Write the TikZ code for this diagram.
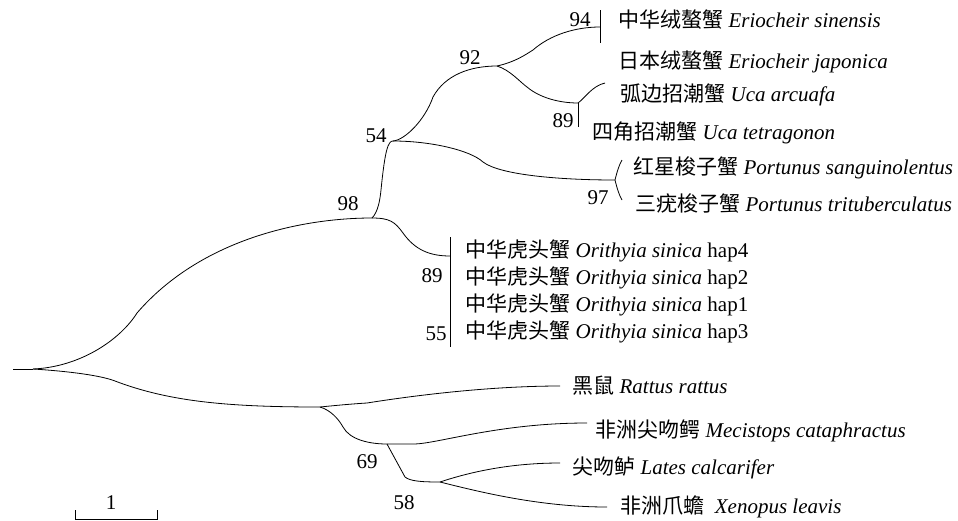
\documentclass[tikz,border=0pt]{standalone}
\usepackage{fontspec}
\setmainfont{Liberation Serif}
\newfontfamily\cjk{Noto Sans CJK SC}
\newcommand{\taxon}[2]{{\cjk #1} \textit{#2}}
\begin{document}
\begin{tikzpicture}[x=1pt,y=-1pt,line width=0.8pt,
  every node/.style={font=\fontsize{21}{25}\selectfont,inner sep=0pt},
  leaf/.style={anchor=west},
  boot/.style={anchor=center}]
\useasboundingbox (0,0) rectangle (958,520);
% tree nodes
\coordinate (root0) at (13,369);
\coordinate (root) at (33,369);
\coordinate (n98) at (372,218);
\coordinate (n54) at (393,141);
\coordinate (n92) at (497,66);
\coordinate (n94) at (600,27);
\coordinate (n89a) at (578,103);
\coordinate (n97) at (615,180);
\coordinate (nOri) at (450,256);
\coordinate (nOut) at (320,407);
\coordinate (n69) at (387,444);
\coordinate (n58) at (440,482);
% leaf ends
\coordinate (eUa) at (605,83);
\coordinate (ePs) at (622,160);
\coordinate (ePt) at (622,200);
\coordinate (eRr) at (560,386);
\coordinate (eMc) at (587,423);
\coordinate (eLc) at (560,463);
\coordinate (eXl) at (607,507);
% bars
\coordinate (b94t) at (600,10);
\coordinate (b94b) at (600,43);
\coordinate (b89b) at (578,127);
\coordinate (bOt) at (450,237);
\coordinate (bOb) at (450,347);
% branches
\draw (root0) -- (root);
\draw (root) .. controls (80,367) and (120,340) .. (137,313)
             .. controls (200,240) and (300,218) .. (n98);
\draw (root) .. controls (80,372) and (105,377) .. (115,381)
             .. controls (170,402) and (230,407) .. (nOut);
\draw (n98) .. controls (378,212) and (380,200) .. (381,190)
            .. controls (385,150) and (388,141) .. (n54);
\draw (n98) .. controls (390,218) and (395,222) .. (403,233)
            .. controls (415,250) and (430,256) .. (nOri);
\draw (bOt) -- (bOb);
\draw (n54) .. controls (430,141) and (470,150) .. (483,162)
            .. controls (500,175) and (560,180) .. (n97);
\draw (n97) .. controls (617,172) and (619,165) .. (ePs);
\draw (n97) .. controls (617,188) and (619,195) .. (ePt);
\draw (n54) .. controls (405,140) and (425,120) .. (433,97)
            .. controls (445,75) and (470,66) .. (n92);
\draw (n92) .. controls (515,62) and (525,55) .. (533,50)
            .. controls (550,35) and (575,27) .. (n94);
\draw (b94t) -- (b94b);
\draw (n92) .. controls (510,70) and (520,82) .. (527,87)
            .. controls (540,98) and (560,103) .. (n89a);
\draw (n89a) -- (b89b);
\draw (n89a) .. controls (585,98) and (592,86) .. (eUa);
\draw (nOut) .. controls (330,406) and (350,404) .. (367,403)
             .. controls (430,393) and (500,386) .. (eRr);
\draw (nOut) .. controls (330,410) and (338,418) .. (343,427)
             .. controls (350,440) and (370,444) .. (n69);
\draw (n69) -- (415,444) .. controls (440,443) and (500,423) .. (eMc);
\draw (n69) -- (405,477) .. controls (410,481) and (420,482) .. (n58);
\draw (n58) .. controls (470,472) and (510,463) .. (eLc);
\draw (n58) .. controls (480,492) and (540,507) .. (eXl);
% scale bar
\coordinate (s1) at (75,510);
\coordinate (s2) at (157,510);
\draw (s1) -- (75,519) -- (157,519) -- (s2);
\node[boot] (sl) at (111,503) {1};
% bootstrap values
\node[boot] (v94) at (580,20) {94};
\node[boot] (v92) at (470,58) {92};
\node[boot] (v89a) at (563,121) {89};
\node[boot] (v54) at (376,136) {54};
\node[boot] (v98) at (348,204) {98};
\node[boot] (v97) at (598,198) {97};
\node[boot] (v89b) at (432,276) {89};
\node[boot] (v55) at (436,334) {55};
\node[boot] (v69) at (367,462) {69};
\node[boot] (v58) at (404,503) {58};
% leaves
\node[leaf] (tEs) at (618,20) {\taxon{中华绒螯蟹}{Eriocheir sinensis}};
\node[leaf] (tEj) at (618,62) {\taxon{日本绒螯蟹}{Eriocheir japonica}};
\node[leaf] (tUa) at (620,95) {\taxon{弧边招潮蟹}{Uca arcuafa}};
\node[leaf] (tUt) at (592,133) {\taxon{四角招潮蟹}{Uca tetragonon}};
\node[leaf] (tPs) at (633,168) {\taxon{红星梭子蟹}{Portunus sanguinolentus}};
\node[leaf] (tPt) at (635,203) {\taxon{三疣梭子蟹}{Portunus trituberculatus}};
\node[leaf] (tO4) at (465,251) {\taxon{中华虎头蟹}{Orithyia sinica} hap4};
\node[leaf] (tO2) at (465,278) {\taxon{中华虎头蟹}{Orithyia sinica} hap2};
\node[leaf] (tO1) at (465,305) {\taxon{中华虎头蟹}{Orithyia sinica} hap1};
\node[leaf] (tO3) at (465,332) {\taxon{中华虎头蟹}{Orithyia sinica} hap3};
\node[leaf] (tRr) at (572,386) {\taxon{黑鼠}{Rattus rattus}};
\node[leaf] (tMc) at (595,431) {\taxon{非洲尖吻鳄}{Mecistops cataphractus}};
\node[leaf] (tLc) at (572,468) {\taxon{尖吻鲈}{Lates calcarifer}};
\node[leaf] (tXl) at (620,507) {{\cjk 非洲爪蟾}\ \ \textit{Xenopus leavis}};
\end{tikzpicture}
\end{document}
